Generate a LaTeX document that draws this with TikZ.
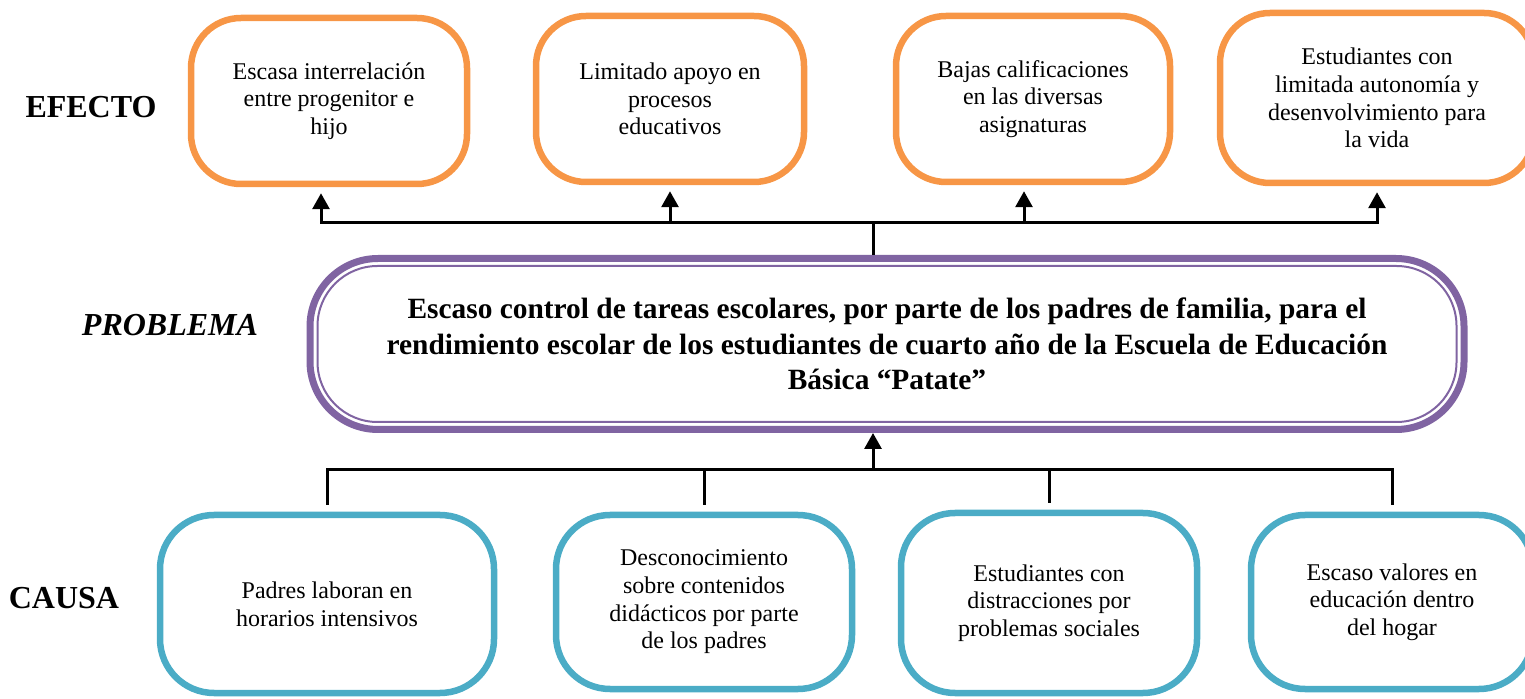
\documentclass[tikz,border=0pt]{standalone}
\usepackage{fontspec}
\setmainfont{Liberation Serif}
\usetikzlibrary{arrows.meta}
\definecolor{my orange}{HTML}{F79646}
\definecolor{my purple}{HTML}{8064A2}
\definecolor{my teal}{HTML}{4BACC6}

\begin{document}
\begin{tikzpicture}[x=0.5pt, y=-0.5pt,
    box/.style={draw, line width=3.25pt, rounded corners=25pt, align=center, inner sep=0pt,
        font=\fontsize{12}{13.8}\selectfont},
    effect/.style={box, draw=my orange, minimum height=83pt},
    cause/.style={box, draw=my teal, rounded corners=27pt},
    problem/.style={draw=my purple, line width=3.5pt, rounded corners=34pt, align=center,
        inner sep=0pt, font=\bfseries\fontsize{14.7}{17.75}\selectfont},
    row label/.style={font=\bfseries\fontsize{16}{19}\selectfont},
    link/.style={line width=1.5pt},
    up arrow/.style={link, -{Triangle[width=8.5pt, length=8pt]}}]
            \useasboundingbox (0, 0) rectangle (1525, 699);
            \clip (0, 0) rectangle (1525, 699);
            % row labels
            \node [row label] (efecto) at (91, 107) {EFECTO};
            \node [row label, font=\bfseries\itshape\fontsize{16}{19}\selectfont] (problema) at (170, 325) {PROBLEMA};
            \node [row label] (causa) at (64, 598) {CAUSA};
            % effects
            \node [effect, minimum width=138pt] (e1) at (329, 101) {Escasa interrelación\\ entre progenitor e\\ hijo};
            \node [effect, minimum width=134pt] (e2) at (670, 99) {Limitado apoyo en\\ procesos\\ educativos};
            \node [effect, minimum width=137pt] (e3) at (1033, 99) {Bajas calificaciones\\ en las diversas\\ asignaturas};
            \node [effect, minimum width=157pt, minimum height=85pt] (e4) at (1377, 98) {Estudiantes con\\ limitada autonomía y\\ desenvolvimiento para\\ la vida};
            % problem
            \node [problem, minimum width=577pt, minimum height=85.5pt] (prob) at (887, 344)
                {Escaso control de tareas escolares, por parte de los padres de familia, para el\\
                 rendimiento escolar de los estudiantes de cuarto año de la Escuela de Educación\\
                 Básica “Patate”};
            \draw [my purple, line width=1pt, rounded corners=30pt] ([shift={(5.5pt, -5.5pt)}]prob.north west) rectangle ([shift={(-5.5pt, 5.5pt)}]prob.south east);
            % causes
            \node [cause, minimum width=167pt, minimum height=89pt] (c1) at (327, 604) {Padres laboran en\\ horarios intensivos};
            \node [cause, minimum width=148pt, minimum height=87pt] (c2) at (704, 602) {Desconocimiento\\ sobre contenidos\\ didácticos por parte\\ de los padres};
            \node [cause, minimum width=148pt, minimum height=90pt] (c3) at (1049, 603) {Estudiantes con\\ distracciones por\\ problemas sociales};
            \node [cause, minimum width=141pt, minimum height=87pt] (c4) at (1392, 602) {Escaso valores en\\ educación dentro\\ del hogar};
            % connectors
            \coordinate (top joint) at (873, 223);
            \coordinate (bottom joint) at (873, 470);
            \draw [link] (top joint |- prob.north) -- (top joint);
            \draw [up arrow, shorten >=3pt] (top joint) -| ([xshift=-4pt]e1.south);
            \draw [up arrow, shorten >=3pt] (top joint) -| (e2.south);
            \draw [up arrow, shorten >=3pt] (top joint) -| ([xshift=-4.5pt]e3.south);
            \draw [up arrow, shorten >=3pt] (top joint) -| (e4.south);
            \draw [up arrow] (bottom joint) -- (bottom joint |- prob.south);
            \foreach \c in {c1, c2, c3, c4}
                \draw [link, shorten >=3.5pt] (bottom joint) -| (\c.north);
        \end{tikzpicture}
\end{document}
